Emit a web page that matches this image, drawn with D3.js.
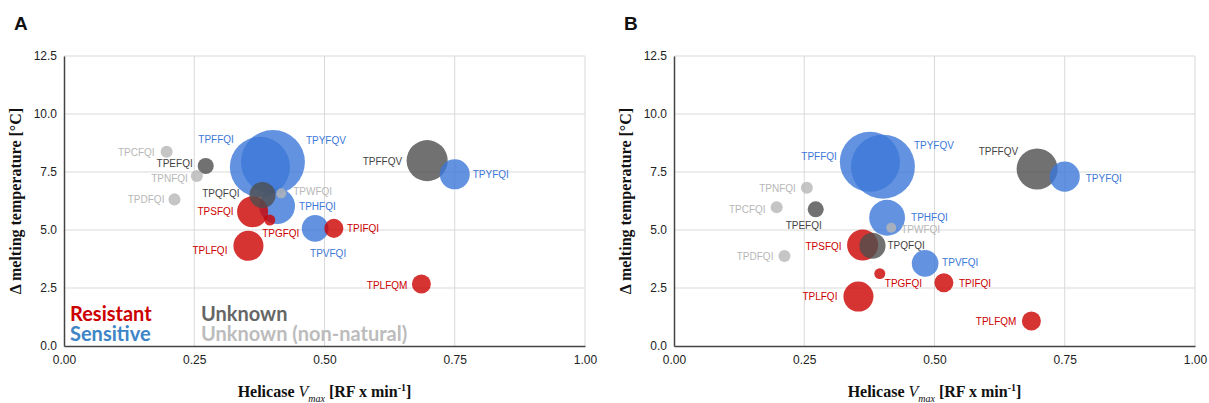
<!DOCTYPE html>
<html>
<head>
<meta charset="utf-8">
<script src="https://cdn.jsdelivr.net/npm/d3@7"></script>
<style>
  body { margin: 0; background: #fff; }
  svg { display: block; }
</style>
</head>
<body>
<div id="chart"></div>
<script>
// ===== DATA =====
const peptides = ['TPCFQI', 'TPEFQI', 'TPNFQI', 'TPDFQI', 'TPFFQI', 'TPYFQV', 'TPQFQI', 'TPWFQI', 'TPHFQI',
  'TPSFQI', 'TPGFQI', 'TPLFQI', 'TPVFQI', 'TPIFQI', 'TPFFQV', 'TPYFQI', 'TPLFQM'];
const groups = ['nonnatural', 'unknown', 'nonnatural', 'nonnatural', 'sensitive', 'sensitive', 'unknown', 'nonnatural', 'sensitive',
  'resistant', 'resistant', 'resistant', 'sensitive', 'resistant', 'unknown', 'sensitive', 'resistant'];
const vmax = [0.197, 0.272, 0.255, 0.212, 0.376, 0.401, 0.381, 0.417, 0.409,
  0.362, 0.395, 0.354, 0.482, 0.518, 0.697, 0.750, 0.686];
const tmA = [8.37, 7.76, 7.33, 6.32, 7.72, 7.93, 6.51, 6.58, 6.03,
  5.79, 5.43, 4.32, 5.07, 5.07, 7.99, 7.40, 2.67];
const tmB = [5.98, 5.89, 6.82, 3.88, 7.94, 7.73, 4.32, 5.10, 5.53,
  4.35, 3.12, 2.13, 3.56, 2.73, 7.63, 7.30, 1.08];
const bubbleSize = [3.6, 6.4, 3.6, 3.6, 90, 102, 17, 2.5, 32,
  24, 3, 22.5, 17.7, 9, 42, 22.5, 9];

const xTicks = [0, 0.25, 0.5, 0.75, 1.0];
const yTicks = [0, 2.5, 5, 7.5, 10, 12.5];

const legendItems = [
  { text: 'Resistant', group: 'resistant', col: 0, row: 0 },
  { text: 'Sensitive', group: 'sensitive', col: 0, row: 1 },
  { text: 'Unknown', group: 'unknown', col: 1, row: 0 },
  { text: 'Unknown (non-natural)', group: 'nonnatural', col: 1, row: 1 }
];

// label placement [dx, dy, anchor] relative to bubble centre
const labelPosA = {
  TPCFQI: [-12, 1, 'end'], TPEFQI: [-13, -2, 'end'], TPNFQI: [-9, 3, 'end'], TPDFQI: [-10, 0, 'end'],
  TPFFQI: [-26, -27, 'end'], TPYFQV: [33, -22, 'start'], TPQFQI: [-23, -1, 'end'], TPWFQI: [12, -2, 'start'],
  TPHFQI: [22, 0, 'start'], TPSFQI: [-19, 0, 'end'], TPGFQI: [11, 13, 'middle'], TPLFQI: [-21, 5, 'end'],
  TPVFQI: [13, 25, 'middle'], TPIFQI: [13, 0, 'start'], TPFFQV: [-25, 1, 'end'], TPYFQI: [18, 0, 'start'],
  TPLFQM: [-14, 1, 'end']
};
const labelPosB = {
  TPCFQI: [-11, 2, 'end'], TPEFQI: [-12, 16, 'middle'], TPNFQI: [-11, 1, 'end'], TPDFQI: [-11, 1, 'end'],
  TPFFQI: [-33, -5, 'end'], TPYFQV: [31, -21, 'start'], TPQFQI: [15, 0, 'start'], TPWFQI: [10, 2, 'start'],
  TPHFQI: [24, 0, 'start'], TPSFQI: [-21, 1, 'end'], TPGFQI: [5, 10, 'start'], TPLFQI: [-21, 0, 'end'],
  TPVFQI: [17, -1, 'start'], TPIFQI: [15, 1, 'start'], TPFFQV: [-19, -17, 'end'], TPYFQI: [21, 2, 'start'],
  TPLFQM: [-15, 1, 'end']
};

// ===== STYLE =====
const fillColor = { resistant: '#cc0000', sensitive: '#3c78d8', unknown: '#4d4d4d', nonnatural: '#b7b7b7' };
const textColor = { resistant: '#cc0000', sensitive: '#3c78d8', unknown: '#434343', nonnatural: '#b7b7b7' };
const legendColor = { resistant: '#cc0000', sensitive: '#3d85c6', unknown: '#666666', nonnatural: '#bcbcbc' };

const W = 1209, H = 403;
const plotTop = 56, plotBottom = 346, plotWidth = 521;

const svg = d3.select('#chart').append('svg')
  .attr('width', W)
  .attr('height', H)
  .attr('viewBox', `0 0 ${W} ${H}`);

const rScale = d3.scaleSqrt().domain([0, d3.max(bubbleSize)]).range([0, 32]);

const panels = [
  { letter: 'A', left: 64, tm: tmA, labelPos: labelPosA, legend: true },
  { letter: 'B', left: 674, tm: tmB, labelPos: labelPosB, legend: false }
];

panels.forEach(p => {
  const x = d3.scaleLinear().domain([0, 1]).range([p.left, p.left + plotWidth]);
  const y = d3.scaleLinear().domain([0, 12.5]).range([plotBottom, plotTop]);
  const g = svg.append('g');

  // panel letter
  g.append('text')
    .attr('x', p.left - 50)
    .attr('y', 30)
    .attr('font-family', 'Liberation Sans, Arial, sans-serif')
    .attr('font-weight', 'bold')
    .attr('font-size', 19)
    .attr('fill', '#111')
    .text(p.letter);

  // gridlines
  g.append('g')
    .selectAll('line.gx')
    .data(xTicks.slice(1))
    .join('line')
    .attr('x1', d => x(d)).attr('x2', d => x(d))
    .attr('y1', plotTop).attr('y2', plotBottom)
    .attr('stroke', '#d9d9d9').attr('stroke-width', 1);
  g.append('g')
    .selectAll('line.gy')
    .data(yTicks.slice(1))
    .join('line')
    .attr('x1', p.left).attr('x2', p.left + plotWidth)
    .attr('y1', d => y(d)).attr('y2', d => y(d))
    .attr('stroke', '#d9d9d9').attr('stroke-width', 1);

  // axes
  const xAxis = g.append('g')
    .attr('transform', `translate(0,${plotBottom})`)
    .call(d3.axisBottom(x).tickValues(xTicks).tickFormat(d3.format('.2f')).tickSize(0).tickPadding(9));
  const yAxis = g.append('g')
    .attr('transform', `translate(${p.left},0)`)
    .call(d3.axisLeft(y).tickValues(yTicks).tickFormat(d3.format('.1f')).tickSize(0).tickPadding(7));
  [xAxis, yAxis].forEach(a => {
    a.select('.domain').attr('stroke', '#444').attr('stroke-width', 1.5);
    a.selectAll('text')
      .attr('font-family', 'Liberation Sans, Arial, sans-serif')
      .attr('font-size', 12)
      .attr('fill', '#222');
  });

  // bubbles, large first so small ones stay visible
  const pts = peptides.map((name, i) => ({
    name, group: groups[i], vx: vmax[i], tm: p.tm[i], size: bubbleSize[i]
  })).sort((a, b) => b.size - a.size);

  g.append('g')
    .selectAll('circle')
    .data(pts)
    .join('circle')
    .attr('cx', d => x(d.vx))
    .attr('cy', d => y(d.tm))
    .attr('r', d => rScale(d.size))
    .attr('fill', d => fillColor[d.group])
    .attr('fill-opacity', 0.8);

  g.append('g')
    .selectAll('text')
    .data(pts)
    .join('text')
    .attr('x', d => x(d.vx) + p.labelPos[d.name][0])
    .attr('y', d => y(d.tm) + p.labelPos[d.name][1])
    .attr('dy', '0.35em')
    .attr('text-anchor', d => p.labelPos[d.name][2])
    .attr('font-family', 'Liberation Sans, Arial, sans-serif')
    .attr('font-size', 10)
    .attr('fill', d => textColor[d.group])
    .text(d => d.name);

  // axis titles
  const serif = 'Liberation Serif, Times New Roman, serif';
  g.append('text')
    .attr('transform', `translate(${p.left - 43},${(plotTop + plotBottom) / 2}) rotate(-90)`)
    .attr('text-anchor', 'middle')
    .attr('font-family', serif)
    .attr('font-weight', 'bold')
    .attr('font-size', 16)
    .attr('fill', '#111')
    .text('Δ melting temperature [°C]');

  const xt = g.append('text')
    .attr('x', p.left + plotWidth / 2)
    .attr('y', 397)
    .attr('text-anchor', 'middle')
    .attr('font-family', serif)
    .attr('font-weight', 'bold')
    .attr('font-size', 16)
    .attr('fill', '#111');
  xt.append('tspan').text('Helicase ');
  xt.append('tspan').attr('font-style', 'italic').attr('font-weight', 'normal').text('V');
  xt.append('tspan').attr('font-style', 'italic').attr('font-weight', 'normal')
    .attr('font-size', 10).attr('dy', 5).text('max');
  xt.append('tspan').attr('dy', -5).text(' [RF x min');
  xt.append('tspan').attr('font-size', 10).attr('dy', -6).text('-1');
  xt.append('tspan').attr('dy', 6).text(']');

  // legend
  if (p.legend) {
    g.append('g')
      .selectAll('text')
      .data(legendItems)
      .join('text')
      .attr('x', d => p.left + 6 + d.col * 131)
      .attr('y', d => 321 + d.row * 20)
      .attr('font-family', 'Lato, sans-serif')
      .attr('font-weight', 'bold')
      .attr('font-size', 20)
      .attr('fill', d => legendColor[d.group])
      .text(d => d.text);
  }
});
</script>
</body>
</html>
